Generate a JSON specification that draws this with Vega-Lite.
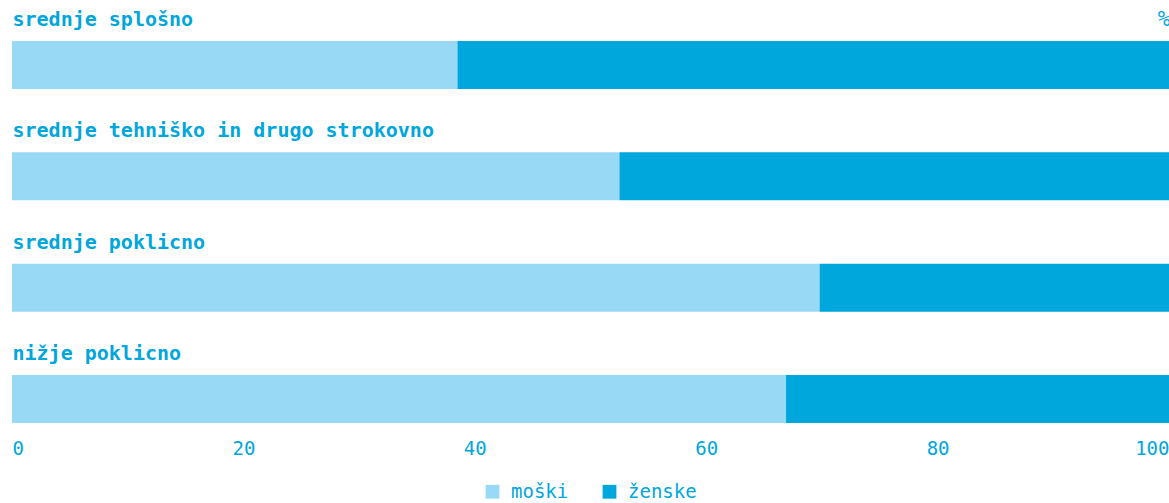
{
  "$schema": "https://vega.github.io/schema/vega-lite/v6.json",
  "width": 1157,
  "height": 430,
  "autosize": {"type": "none"},
  "padding": {"left": 12, "top": 0, "right": 0, "bottom": 73},
  "background": "white",
  "config": {
    "view": {"stroke": null},
    "font": "DejaVu Sans Mono"
  },
  "data": {
    "values": [
      {"raven": "srednje splošno", "spol": "moški", "delez": 38.5},
      {"raven": "srednje splošno", "spol": "ženske", "delez": 61.5},
      {"raven": "srednje tehniško in drugo strokovno", "spol": "moški", "delez": 52.5},
      {"raven": "srednje tehniško in drugo strokovno", "spol": "ženske", "delez": 47.5},
      {"raven": "srednje poklicno", "spol": "moški", "delez": 69.8},
      {"raven": "srednje poklicno", "spol": "ženske", "delez": 30.2},
      {"raven": "nižje poklicno", "spol": "moški", "delez": 66.9},
      {"raven": "nižje poklicno", "spol": "ženske", "delez": 33.1}
    ]
  },
  "mark": {"type": "bar"},
  "encoding": {
    "y": {
      "field": "raven",
      "type": "nominal",
      "sort": ["srednje splošno", "srednje tehniško in drugo strokovno", "srednje poklicno", "nižje poklicno"],
      "scale": {"paddingInner": 0.5689, "paddingOuter": 0.2155, "align": 0.854},
      "axis": {
        "title": null,
        "orient": "left",
        "ticks": false,
        "domain": false,
        "labelAlign": "left",
        "labelBaseline": "alphabetic",
        "labelPadding": 0,
        "labelOffset": -39,
        "labelLimit": 0,
        "labelFont": "DejaVu Sans Mono",
        "labelFontWeight": "bold",
        "labelFontSize": 20,
        "labelColor": "#00A6DC"
      }
    },
    "x": {
      "field": "delez",
      "type": "quantitative",
      "stack": "zero",
      "scale": {"domain": [0, 100], "nice": false},
      "axis": {
        "title": "%",
        "titleX": 1158,
        "titleY": -411,
        "titleAlign": "right",
        "titleBaseline": "middle",
        "titleFont": "DejaVu Sans Mono",
        "titleFontWeight": "normal",
        "titleFontSize": 21,
        "titleColor": "#00A6DC",
        "values": [0, 20, 40, 60, 80, 100],
        "grid": false,
        "ticks": false,
        "domain": false,
        "labelFlush": true,
        "labelPadding": 9,
        "labelFont": "DejaVu Sans Mono",
        "labelFontSize": 19,
        "labelColor": "#00A6DC"
      }
    },
    "color": {
      "field": "spol",
      "type": "nominal",
      "scale": {"domain": ["moški", "ženske"], "range": ["#98D9F6", "#00A7DD"]},
      "legend": {
        "title": null,
        "orient": "none",
        "direction": "horizontal",
        "legendX": 471,
        "legendY": 482,
        "symbolType": "square",
        "symbolSize": 190,
        "symbolStrokeWidth": 0,
        "symbolOpacity": 1,
        "labelFont": "DejaVu Sans Mono",
        "labelFontSize": 19,
        "labelColor": "#00A6DC",
        "labelOffset": 9,
        "columnPadding": 31
      }
    },
    "order": {"field": "spol", "sort": "ascending"}
  }
}
